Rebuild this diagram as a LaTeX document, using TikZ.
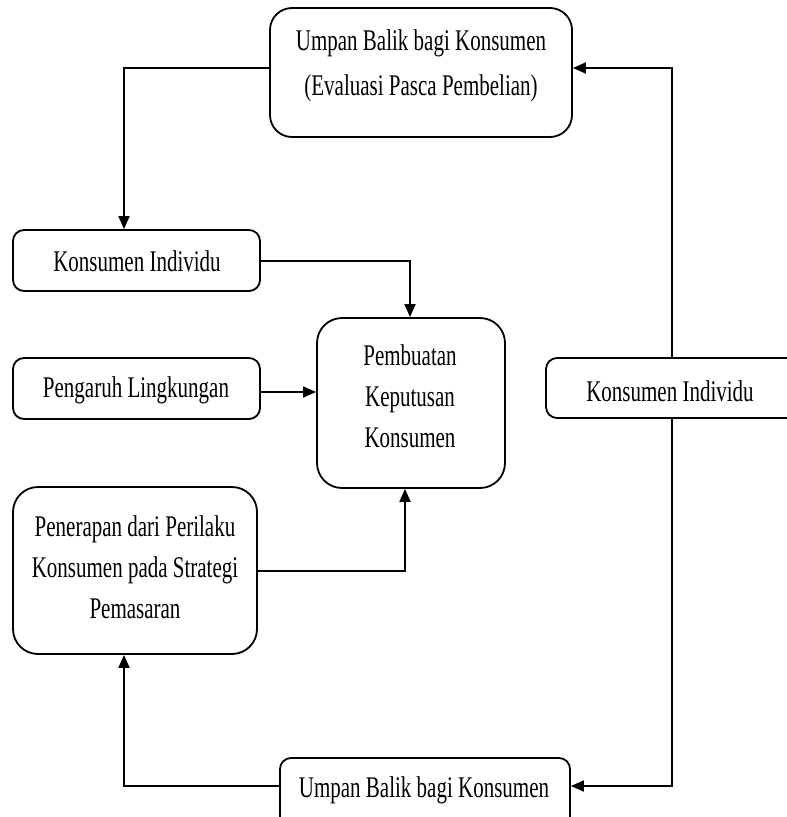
\documentclass[tikz,border=0pt]{standalone}
\usepackage{fontspec}
\setmainfont[FakeStretch=0.7]{Liberation Serif}
\usetikzlibrary{arrows.meta}
\begin{document}
\begin{tikzpicture}[x=1pt,y=-1pt,
  box/.style={draw=black, line width=1.8pt, fill=white, inner sep=0pt},
  txt/.style={inner sep=0pt, align=center, font=\fontsize{30}{41}\selectfont},
  arr/.style={line width=1.8pt, -{Triangle[length=13pt,width=11pt]}},
  darr/.style={line width=1.8pt, {Triangle[length=13pt,width=11pt]}-{Triangle[length=13pt,width=11pt]}}]
\clip (0,0) rectangle (787,817);
\fill[white] (0,0) rectangle (787,817);
% boxes
\node[box, rounded corners=22pt, minimum width=302pt, minimum height=129pt] (fb) at (421,72.5) {};
\node[box, rounded corners=11pt, minimum width=247pt, minimum height=61pt] (ki1) at (136.5,260.5) {};
\node[box, rounded corners=11pt, minimum width=247pt, minimum height=61pt] (peng) at (136.5,388.5) {};
\node[box, rounded corners=25pt, minimum width=188pt, minimum height=170pt] (pk) at (411,403) {};
\node[box, rounded corners=25pt, minimum width=244pt, minimum height=167pt] (pen) at (135,570.5) {};
\node[box, rounded corners=11pt, minimum width=290pt, minimum height=77pt] (ub) at (425,796.5) {};
% texts
\node[txt, font=\fontsize{30}{45}\selectfont] (tfb) at (421,66) {Umpan Balik bagi Konsumen\\(Evaluasi Pasca Pembelian)};
\node[txt] (tki1) at (137,261) {Konsumen Individu};
\node[txt] (tpeng) at (136,390) {Pengaruh Lingkungan};
\node[txt] (tpk) at (410,396) {Pembuatan\\Keputusan\\Konsumen};
\node[txt] (tpen) at (135,567) {Penerapan dari Perilaku\\Konsumen pada Strategi\\Pemasaran};
\node[txt] (tub) at (424,790) {Umpan Balik bagi Konsumen};
% corner coordinates
\coordinate (c1) at (124,68);
\coordinate (c2) at (410,261);
\coordinate (c3) at (300,392);
\coordinate (c4) at (405,571);
\coordinate (c5) at (672,68);
\coordinate (c6) at (672,786);
\coordinate (c7) at (124,786);
% connectors
\draw[arr] (fb.west |- c1) -- (c1) -- (c1 |- ki1.north);
\draw[arr] (ki1.east |- c2) -- (c2) -- (c2 |- pk.north);
\draw[arr] (peng.east |- c3) -- (pk.west |- c3);
\draw[arr] (pen.east |- c4) -- (c4) -- (c4 |- pk.south);
\draw[darr] (fb.east |- c5) -- (c5) -- (c6) -- (ub.east |- c6);
\draw[arr] (ub.west |- c7) -- (c7) -- (c7 |- pen.south);
% right box over the line
\node[box, rounded corners=11pt, minimum width=274pt, minimum height=60pt] (ki2) at (683,388) {};
\node[txt] (tki2) at (670,391) {Konsumen Individu};
\end{tikzpicture}
\end{document}
